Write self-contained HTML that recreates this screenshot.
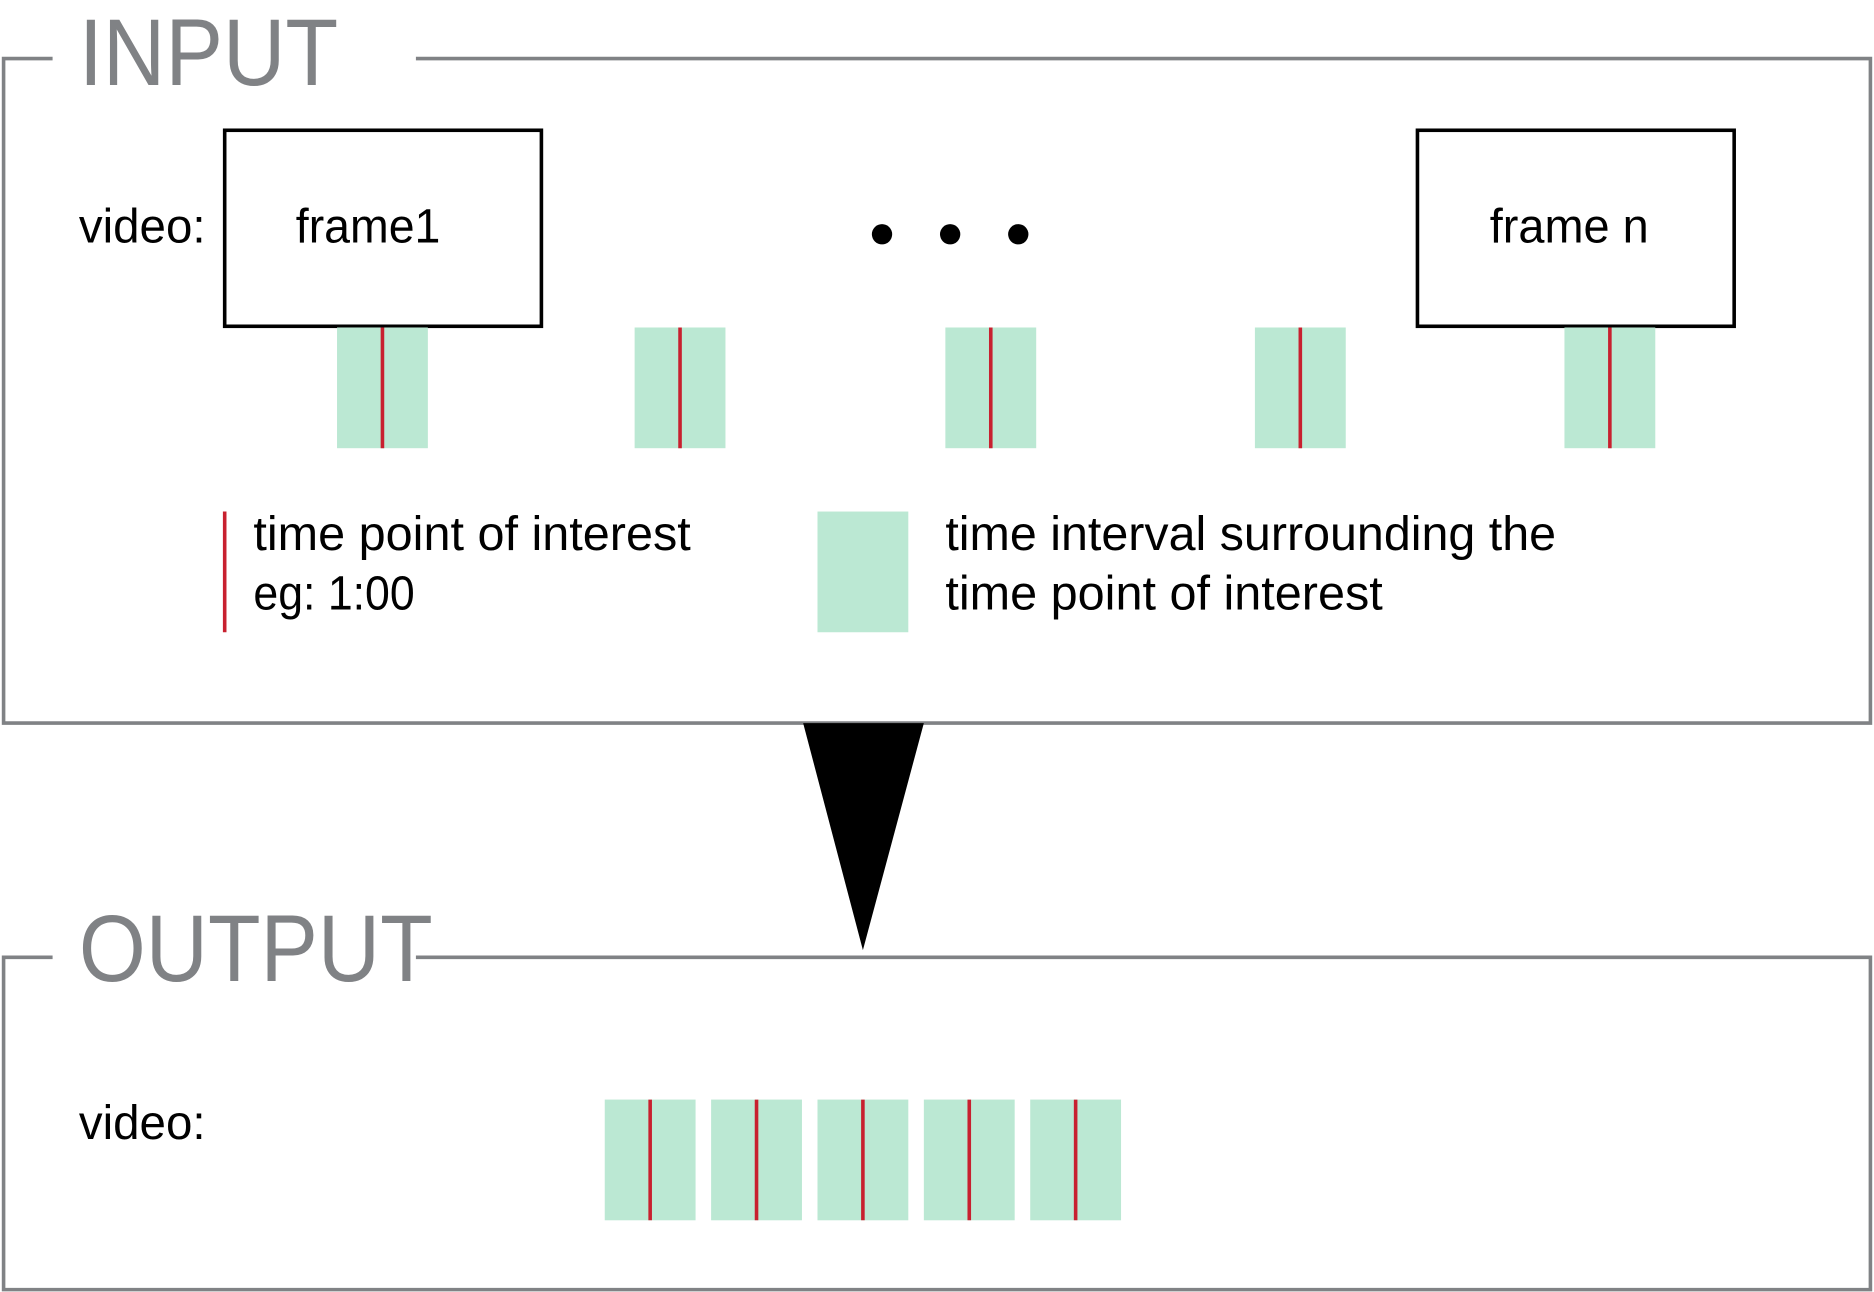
<!DOCTYPE html>
<html><head><meta charset="utf-8"><style>
html,body{margin:0;padding:0;background:#fff;}
svg{display:block;}
text{font-family:"Liberation Sans",sans-serif;}
</style></head><body>
<svg width="1874" height="1292" viewBox="0 0 1568 1081" preserveAspectRatio="none" xmlns="http://www.w3.org/2000/svg">
<g id="input-panel">
<path d="M44 49 H3 V605 H1565 V49 H348" fill="none" stroke="#808285" stroke-width="3"/>
<text x="66" y="71" font-size="79" fill="#808285" textLength="217" lengthAdjust="spacingAndGlyphs">INPUT</text>
<text x="66" y="203" font-size="40" textLength="106" lengthAdjust="spacingAndGlyphs">video:</text>
<rect x="188" y="109" width="265" height="164" fill="#fff" stroke="#000" stroke-width="3"/>
<text x="308" y="203" font-size="40" text-anchor="middle" textLength="121" lengthAdjust="spacingAndGlyphs">frame1</text>
<rect x="1186" y="109" width="265" height="164" fill="#fff" stroke="#000" stroke-width="3"/>
<text x="1313" y="203" font-size="40" text-anchor="middle" textLength="133" lengthAdjust="spacingAndGlyphs">frame n</text>
<circle cx="738" cy="196" r="8.5"/>
<circle cx="795" cy="196" r="8.5"/>
<circle cx="852" cy="196" r="8.5"/>
<g id="input-intervals"></g>
<line x1="188" y1="428" x2="188" y2="529" stroke="#c8202f" stroke-width="3"/>
<text x="212" y="460" font-size="40" textLength="366" lengthAdjust="spacingAndGlyphs">time point of interest</text>
<text x="212" y="510" font-size="40" textLength="135" lengthAdjust="spacingAndGlyphs">eg: 1:00</text>
<rect x="684" y="428" width="76" height="101" fill="#bbe8d3"/>
<text x="791" y="460" font-size="40" textLength="511" lengthAdjust="spacingAndGlyphs">time interval surrounding the</text>
<text x="791" y="510" font-size="40" textLength="366" lengthAdjust="spacingAndGlyphs">time point of interest</text>
</g>
<polygon points="672,605 773,605 722,795" fill="#000"/>
<g id="output-panel">
<path d="M44 801 H3 V1079 H1565 V801 H348" fill="none" stroke="#808285" stroke-width="3"/>
<text x="66" y="821" font-size="79" fill="#808285" textLength="296" lengthAdjust="spacingAndGlyphs">OUTPUT</text>
<text x="66" y="953" font-size="40" textLength="106" lengthAdjust="spacingAndGlyphs">video:</text>
<g id="output-intervals"></g>
</g>
</svg>
<script>
const inputIntervalStarts = [282, 531, 791, 1050, 1309];
const outputIntervalStarts = [506, 595, 684, 773, 862];
const intervalWidth = 76;
const NS = 'http://www.w3.org/2000/svg';
function drawIntervals(groupId, starts, y, h, name) {
  const g = document.getElementById(groupId);
  starts.forEach(function (x) {
    const r = document.createElementNS(NS, 'rect');
    r.setAttribute('x', x); r.setAttribute('y', y);
    r.setAttribute('width', intervalWidth); r.setAttribute('height', h);
    r.setAttribute('fill', '#bbe8d3');
    
    
    g.appendChild(r);
    const l = document.createElementNS(NS, 'line');
    const cx = x + intervalWidth / 2;
    l.setAttribute('x1', cx); l.setAttribute('x2', cx);
    l.setAttribute('y1', y); l.setAttribute('y2', y + h);
    l.setAttribute('stroke', '#c8202f'); l.setAttribute('stroke-width', '3');
    
    
    g.appendChild(l);
  });
}
drawIntervals('input-intervals', inputIntervalStarts, 274, 101, 'input');
drawIntervals('output-intervals', outputIntervalStarts, 920, 101, 'output');
</script>
</body></html>
